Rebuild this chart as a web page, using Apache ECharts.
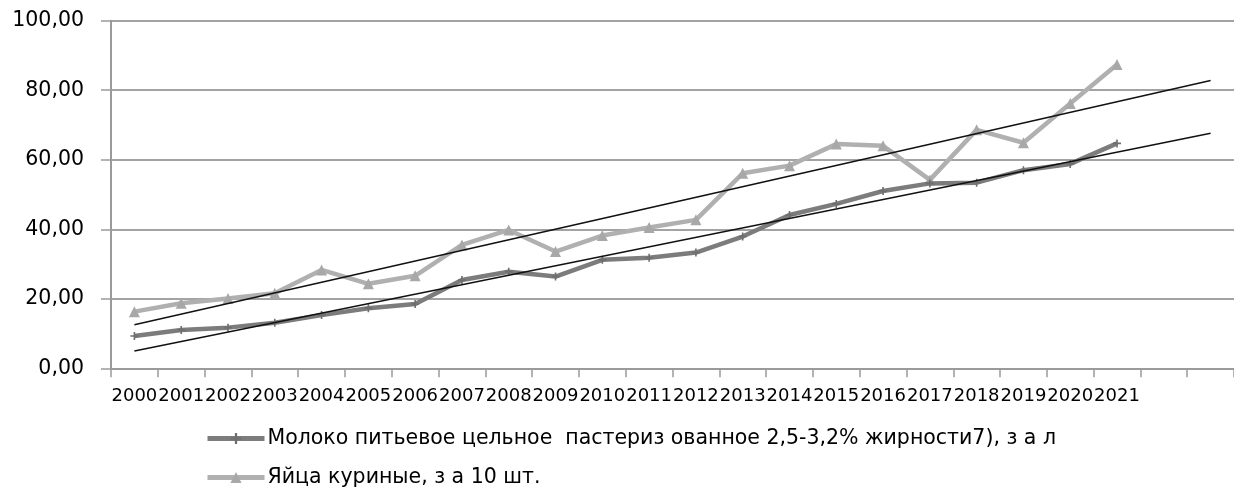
<!DOCTYPE html>
<html>
<head>
<meta charset="utf-8">
<script src="https://cdn.jsdelivr.net/npm/echarts@6/dist/echarts.min.js"></script>
<style>
html,body{margin:0;padding:0;background:#fff;}
#chart{width:1234px;height:491px;}
</style>
</head>
<body>
<div id="chart"></div>
<script>
// Categories: years plus two forecast periods used by the trend lines
const categories = ['2000','2001','2002','2003','2004','2005','2006','2007','2008','2009','2010','2011','2012','2013','2014','2015','2016','2017','2018','2019','2020','2021','',''];

const milkName = 'Молоко питьевое цельное  пастериз ованное 2,5-3,2% жирности7), з а л';
const eggsName = 'Яйца куриные, з а 10 шт.';

const milkValues = [9.3, 11.0, 11.7, 13.1, 15.3, 17.3, 18.5, 25.4, 27.8, 26.4, 31.2, 31.8, 33.3, 37.9, 44.1, 47.3, 51.0, 53.2, 53.4, 57.0, 58.8, 64.7];
const eggsValues = [16.3, 18.7, 20.1, 21.6, 28.3, 24.3, 26.6, 35.5, 39.8, 33.6, 38.2, 40.5, 42.7, 56.1, 58.3, 64.5, 64.0, 54.2, 68.6, 64.9, 76.2, 87.4];

// Linear trend lines: value at first and last category
const milkTrendEnds = [5.0, 67.6];
const eggsTrendEnds = [12.5, 82.8];

const yTicks = [0, 20, 40, 60, 80, 100];

function trendData(ends) {
  const arr = categories.map(() => null);
  arr[0] = ends[0];
  arr[categories.length - 1] = ends[1];
  return arr;
}

const plusPath = 'path://M4,0 L6,0 L6,4 L10,4 L10,6 L6,6 L6,10 L4,10 L4,6 L0,6 L0,4 L4,4 Z';
const FONT = '"DejaVu Sans", Verdana, sans-serif';

const legendBase = {
  orient: 'vertical',
  left: 205,
  padding: 0,
  itemWidth: 57,
  itemHeight: 14,
  lineStyle: { width: 5 },
  textStyle: { fontFamily: FONT, fontSize: 20.5, color: '#000', padding: [0,0,0,-2] }
};

const chart = echarts.init(document.getElementById('chart'));
chart.setOption({
  animation: false,
  backgroundColor: '#ffffff',
  grid: { left: 111, top: 20.7, right: -22.5, bottom: 122.7, containLabel: false },
  legend: [
    Object.assign({}, legendBase, { top: 428, data: [milkName] }),
    Object.assign({}, legendBase, { top: 467, data: [eggsName] })
  ],
  xAxis: {
    type: 'category',
    data: categories,
    boundaryGap: true,
    axisLine: { lineStyle: { color: '#9a9a9a', width: 2 } },
    axisTick: { show: true, alignWithLabel: false, interval: 0, length: 9, lineStyle: { color: '#9a9a9a', width: 1.5 } },
    axisLabel: { interval: 0, margin: 19, color: '#000', fontFamily: FONT, fontSize: 18 },
    splitLine: { show: false }
  },
  yAxis: {
    type: 'value',
    min: yTicks[0],
    max: yTicks[yTicks.length - 1],
    interval: 20,
    axisLine: { show: true, lineStyle: { color: '#9a9a9a', width: 2 } },
    axisTick: { show: true, length: 10, lineStyle: { color: '#9a9a9a', width: 1.5 } },
    axisLabel: {
      margin: 27, color: '#000', fontFamily: FONT, fontSize: 20.5,
      formatter: v => v.toFixed(2).replace('.', ',')
    },
    splitLine: { show: true, lineStyle: { color: '#a3a3a3', width: 2 } }
  },
  series: [
    {
      name: milkName,
      type: 'line',
      data: milkValues,
      symbol: plusPath,
      symbolSize: 8,
      lineStyle: { color: '#7c7c7c', width: 4.5 },
      itemStyle: { color: '#6e6e6e' },
      z: 3
    },
    {
      name: eggsName,
      type: 'line',
      data: eggsValues,
      symbol: 'triangle',
      symbolSize: 11,
      lineStyle: { color: '#b0b0b0', width: 4.5 },
      itemStyle: { color: '#a8a8a8' },
      z: 2
    },
    {
      name: 'trendEggs',
      type: 'line',
      data: trendData(eggsTrendEnds),
      connectNulls: true,
      symbol: 'none',
      silent: true,
      lineStyle: { color: '#111', width: 1.5 },
      z: 4
    },
    {
      name: 'trendMilk',
      type: 'line',
      data: trendData(milkTrendEnds),
      connectNulls: true,
      symbol: 'none',
      silent: true,
      lineStyle: { color: '#111', width: 1.5 },
      z: 4
    }
  ]
});
</script>
</body>
</html>
